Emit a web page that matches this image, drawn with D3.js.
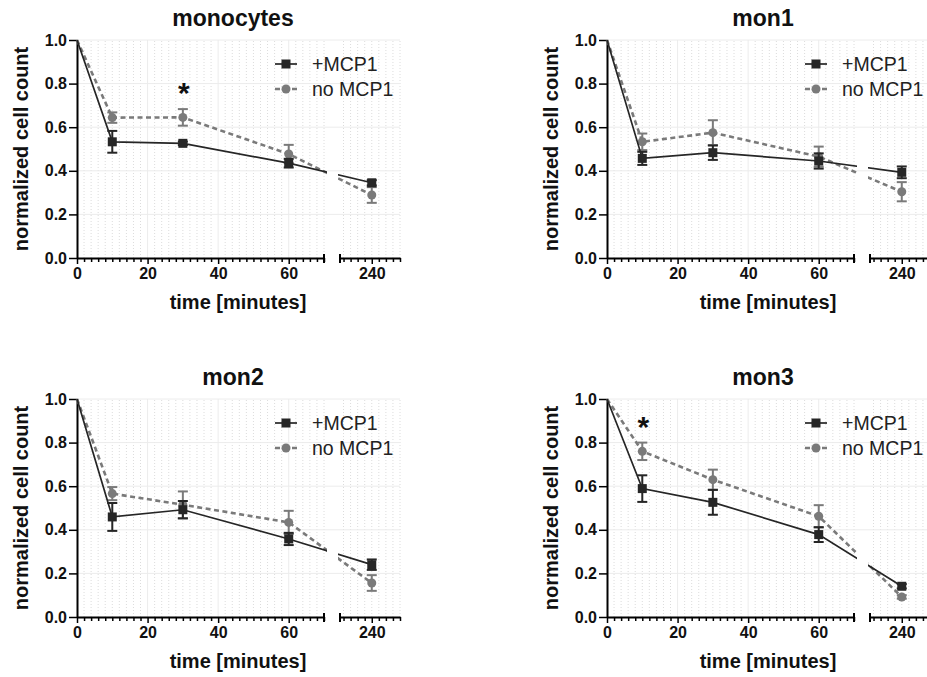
<!DOCTYPE html>
<html>
<head>
<meta charset="utf-8">
<script src="https://cdn.jsdelivr.net/npm/d3@7"></script>
<style>
  body { margin: 0; background: #fff; }
  svg { display: block; font-family: "Liberation Sans", Arial, sans-serif; }
</style>
</head>
<body>
<svg width="927" height="677"></svg>
<script>
// time points (minutes)
const times = [0, 10, 30, 60, 240];

const panelTitles = ["monocytes", "mon1", "mon2", "mon3"];

// +MCP1 means and SEM
const mcpMean = [
  [1.0, 0.533, 0.526, 0.435, 0.345],
  [1.0, 0.457, 0.483, 0.445, 0.393],
  [1.0, 0.459, 0.492, 0.358, 0.240],
  [1.0, 0.589, 0.526, 0.378, 0.141]
];
const mcpErr = [
  [0, 0.050, 0.008, 0.020, 0.012],
  [0, 0.030, 0.033, 0.035, 0.027],
  [0, 0.064, 0.040, 0.028, 0.024],
  [0, 0.061, 0.057, 0.034, 0.010]
];

// no MCP1 means and SEM
const noMean = [
  [1.0, 0.644, 0.645, 0.477, 0.289],
  [1.0, 0.533, 0.575, 0.465, 0.304],
  [1.0, 0.566, 0.515, 0.434, 0.156],
  [1.0, 0.760, 0.630, 0.462, 0.092]
];
const noErr = [
  [0, 0.024, 0.038, 0.042, 0.036],
  [0, 0.038, 0.057, 0.046, 0.044],
  [0, 0.030, 0.061, 0.053, 0.036],
  [0, 0.040, 0.046, 0.051, 0.008]
];

// significance stars: time point per panel (null = none)
const starAt = [30, null, null, 10];

const seriesNames = ["+MCP1", "no MCP1"];

const svg = d3.select("svg");

// geometry
const plotH = 218;
const origins = [[77, 40], [607, 40], [77, 399], [607, 399]];

// broken x axis: two linear pieces
const xA = d3.scaleLinear().domain([0, 70]).range([0, 247]);
const xB = d3.scaleLinear().domain([231, 248]).range([263, 323]);
const xPos = t => t <= 70 ? xA(t) : xB(t);
const y = d3.scaleLinear().domain([0, 1]).range([plotH, 0]);

const minorA = d3.range(2, 71, 2);
const minorB = d3.range(232, 249, 2);

const colDark = "#262626";
const colGray = "#7a7a7a";

panelTitles.forEach((title, i) => {
  const [ox, oy] = origins[i];
  const g = svg.append("g").attr("transform", `translate(${ox},${oy})`);

  // grid
  const grid = g.append("g");
  grid.selectAll(".vminor")
    .data(minorA.filter(d => d % 20 !== 0).concat(minorB))
    .enter().append("line")
    .attr("x1", d => xPos(d)).attr("x2", d => xPos(d))
    .attr("y1", y(0)).attr("y2", y(1))
    .attr("stroke", "#dcdcdc").attr("stroke-width", 1)
    .attr("stroke-dasharray", "1,2");
  grid.selectAll(".vmajor")
    .data([20, 40, 60])
    .enter().append("line")
    .attr("x1", d => xPos(d)).attr("x2", d => xPos(d))
    .attr("y1", y(0)).attr("y2", y(1))
    .attr("stroke", "#ececec").attr("stroke-width", 1);
  grid.selectAll(".hmajor")
    .data([0.2, 0.4, 0.6, 0.8, 1.0])
    .enter().append("line")
    .attr("x1", 0).attr("x2", xB.range()[1])
    .attr("y1", d => y(d)).attr("y2", d => y(d))
    .attr("stroke", "#ececec").attr("stroke-width", 1);

  // axes
  const yAxis = g.append("g")
    .call(d3.axisLeft(y).tickValues([0, 0.2, 0.4, 0.6, 0.8, 1.0])
      .tickFormat(d3.format(".1f")).tickSize(8).tickSizeOuter(0).tickPadding(2));
  yAxis.select(".domain").attr("stroke", "#000").attr("stroke-width", 2);
  yAxis.selectAll(".tick line").attr("stroke", "#000").attr("stroke-width", 1.5);
  yAxis.selectAll("text").attr("font-size", 16).attr("font-weight", "bold")
    .attr("fill", "#111").attr("font-family", "Liberation Sans, Arial, sans-serif");

  [[xA, [0, 20, 40, 60], minorA], [xB, [240], minorB]].forEach(([sc, majors, minors]) => {
    const ax = g.append("g").attr("transform", `translate(0,${plotH})`);
    ax.append("g")
      .call(d3.axisBottom(sc).tickValues(minors.filter(d => !majors.includes(d)))
        .tickFormat("").tickSize(4).tickSizeOuter(0))
      .call(a => a.select(".domain").remove())
      .selectAll("line").attr("stroke", "#000").attr("stroke-width", 1.5);
    const maj = ax.append("g")
      .call(d3.axisBottom(sc).tickValues(majors).tickFormat(d3.format("d"))
        .tickSize(6).tickSizeOuter(0).tickPadding(4));
    maj.select(".domain").attr("stroke", "#000").attr("stroke-width", 2);
    maj.selectAll(".tick line").attr("stroke", "#000").attr("stroke-width", 1.5);
    maj.selectAll("text").attr("font-size", 16).attr("font-weight", "bold")
      .attr("fill", "#111").attr("font-family", "Liberation Sans, Arial, sans-serif");
  });

  // break marks
  g.selectAll(".brk")
    .data([xA.range()[1], xB.range()[0]])
    .enter().append("line")
    .attr("x1", d => d).attr("x2", d => d)
    .attr("y1", plotH - 4).attr("y2", plotH + 5)
    .attr("stroke", "#000").attr("stroke-width", 2);

  // clip out the axis break gap for data lines
  const clipId = "clip" + i;
  const cp = g.append("clipPath").attr("id", clipId);
  cp.append("rect").attr("x", -20).attr("y", -20)
    .attr("width", xA.range()[1] + 3 + 20).attr("height", plotH + 40);
  cp.append("rect").attr("x", xB.range()[0] - 2).attr("y", -20)
    .attr("width", 120).attr("height", plotH + 40);

  const series = [
    { mean: noMean[i], err: noErr[i], color: colGray, dash: "5,3.5", width: 2.6, shape: "circle" },
    { mean: mcpMean[i], err: mcpErr[i], color: colDark, dash: null, width: 1.7, shape: "square" }
  ];

  const line = d3.line().x((d, j) => xPos(times[j])).y(d => y(d));

  series.forEach(s => {
    g.append("path")
      .datum(s.mean)
      .attr("clip-path", `url(#${clipId})`)
      .attr("d", line)
      .attr("fill", "none")
      .attr("stroke", s.color)
      .attr("stroke-width", s.width)
      .attr("stroke-dasharray", s.dash);

    const pts = times.map((t, j) => ({ t, m: s.mean[j], e: s.err[j] })).filter(d => d.t > 0);
    const eb = g.append("g");
    eb.selectAll(".v").data(pts).enter().append("line")
      .attr("x1", d => xPos(d.t)).attr("x2", d => xPos(d.t))
      .attr("y1", d => y(d.m - d.e)).attr("y2", d => y(d.m + d.e))
      .attr("stroke", s.color).attr("stroke-width", 2);
    eb.selectAll(".cap").data(pts.flatMap(d => [d.m - d.e, d.m + d.e].map(v => ({ t: d.t, v }))))
      .enter().append("line")
      .attr("x1", d => xPos(d.t) - 5).attr("x2", d => xPos(d.t) + 5)
      .attr("y1", d => y(d.v)).attr("y2", d => y(d.v))
      .attr("stroke", s.color).attr("stroke-width", 2);

    if (s.shape === "square") {
      g.selectAll(".sq" + i).data(pts).enter().append("rect")
        .attr("x", d => xPos(d.t) - 4.5).attr("y", d => y(d.m) - 4.5)
        .attr("width", 9).attr("height", 9).attr("fill", s.color);
    } else {
      g.selectAll(".ci" + i).data(pts).enter().append("circle")
        .attr("cx", d => xPos(d.t)).attr("cy", d => y(d.m))
        .attr("r", 4.5).attr("fill", s.color);
    }
  });

  // star, placed above the upper error bar
  if (starAt[i] !== null) {
    const j = times.indexOf(starAt[i]);
    const top = noMean[i][j] + noErr[i][j];
    g.append("text")
      .attr("x", xPos(starAt[i]) + 1).attr("y", y(top + 0.105) + 17)
      .attr("text-anchor", "middle")
      .attr("font-size", 30).attr("font-weight", "bold").attr("fill", "#111")
      .text("*");
  }

  // legend
  const leg = g.append("g").attr("transform", "translate(198,24)");
  [
    { name: seriesNames[0], color: colDark, dash: null, width: 1.7, shape: "square" },
    { name: seriesNames[1], color: colGray, dash: "5,3.5", width: 2.6, shape: "circle" }
  ].forEach((s, k) => {
    const row = leg.append("g").attr("transform", `translate(0,${k * 25})`);
    row.append("line").attr("x1", 0).attr("x2", 22).attr("y1", 0).attr("y2", 0)
      .attr("stroke", s.color).attr("stroke-width", s.width).attr("stroke-dasharray", s.dash);
    if (s.shape === "square") {
      row.append("rect").attr("x", 6.5).attr("y", -4.5).attr("width", 9).attr("height", 9).attr("fill", s.color);
    } else {
      row.append("circle").attr("cx", 11).attr("cy", 0).attr("r", 4.5).attr("fill", s.color);
    }
    row.append("text").attr("x", 37).attr("y", 7)
      .attr("font-size", 19.5).attr("fill", "#222").text(s.name);
  });

  // titles
  g.append("text")
    .attr("x", 156).attr("y", -14)
    .attr("text-anchor", "middle")
    .attr("font-size", 23).attr("font-weight", "bold").attr("fill", "#111")
    .text(title);
  g.append("text")
    .attr("x", 161).attr("y", plotH + 51)
    .attr("text-anchor", "middle")
    .attr("font-size", 20).attr("font-weight", "bold").attr("fill", "#111")
    .text("time [minutes]");
  g.append("text")
    .attr("transform", `translate(-49,${plotH / 2}) rotate(-90)`)
    .attr("text-anchor", "middle")
    .attr("font-size", 20).attr("font-weight", "bold").attr("fill", "#111")
    .text("normalized cell count");
});
</script>
</body>
</html>
